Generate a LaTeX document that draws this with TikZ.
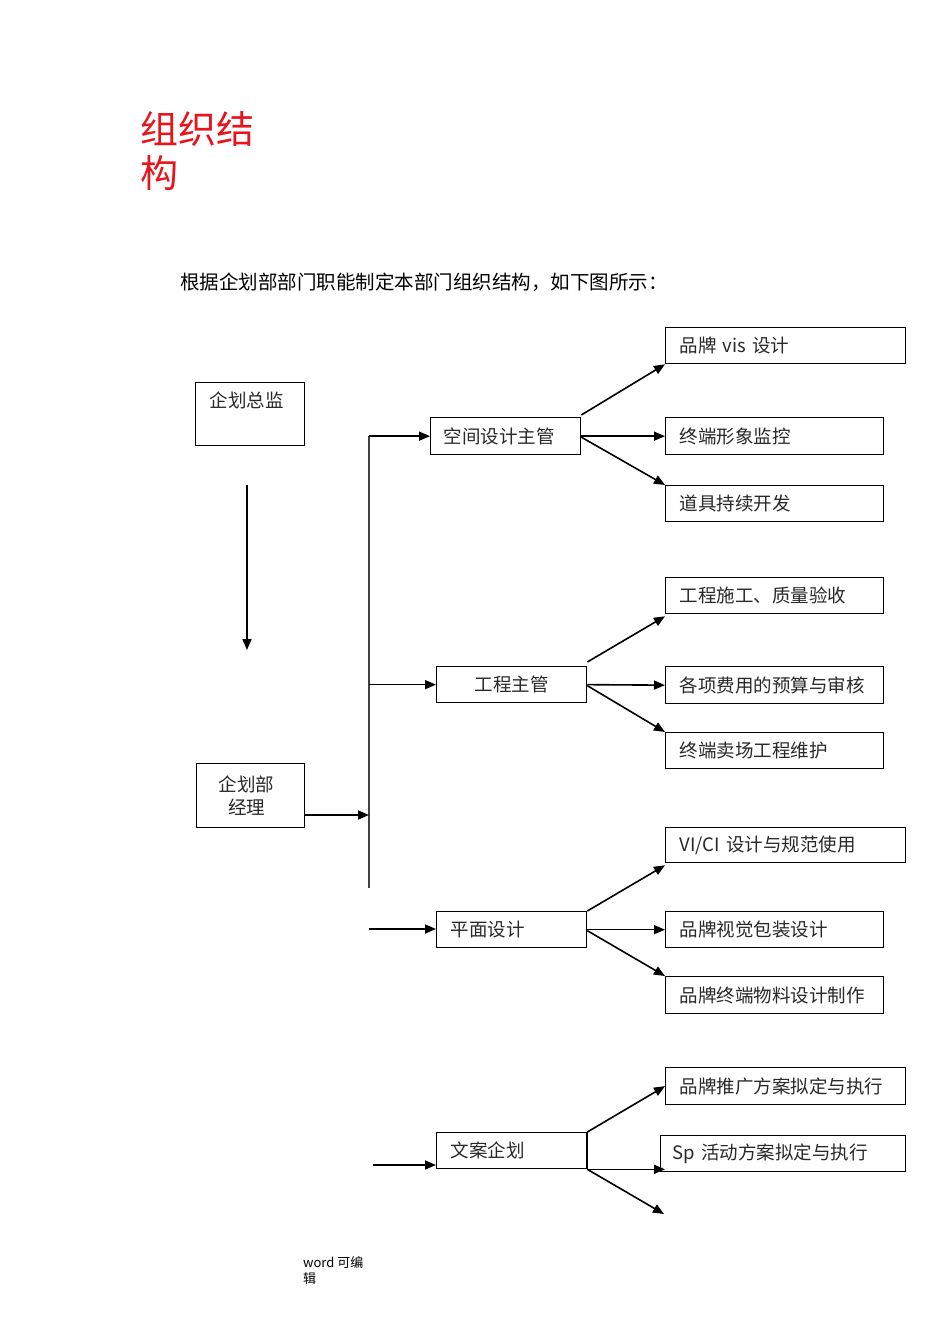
\documentclass[tikz,border=0pt]{standalone}
\usepackage{fontspec}
\setmainfont{Noto Sans CJK SC}
\usetikzlibrary{arrows.meta}
\definecolor{titlered}{RGB}{232,20,27}
\definecolor{boxtext}{RGB}{40,40,40}
\tikzset{
  boxfont/.style={font=\fontsize{18.5}{23}\selectfont, text=boxtext},
  orgbox/.style={draw=black, line width=1.3pt, inner ysep=0pt, inner xsep=14pt, anchor=north west, boxfont, align=left},
  arr/.style={line width=1.6pt, -{Triangle[length=11pt,width=9pt]}},
  spine/.style={line width=1.6pt, draw=black!75},
}
\begin{document}
\begin{tikzpicture}[x=1pt,y=-1pt]
\useasboundingbox (0,0) rectangle (950,1344);

% title and intro
\node[anchor=north west, align=left, inner sep=0pt, text=titlered,
      font=\fontsize{38}{44}\selectfont] (title) at (140,111) {组织结\\构};
\node[anchor=west, inner sep=0pt, font=\fontsize{19.5}{24}\selectfont] (intro) at (180,282)
  {根据企划部部门职能制定本部门组织结构，如下图所示：};

% left boxes
\node[orgbox, text width=81pt, text height=25pt, text depth=38pt] (zj) at (195,382) {企划总监};
\node[orgbox, inner xsep=10pt, text width=88pt, minimum height=64pt, align=center,
      font=\fontsize{18.5}{24}\selectfont] (jl) at (196,763) {\hspace*{-8pt}企划部\\[-1pt]\hspace*{-8pt}经理\\[-3pt]};

% middle boxes
\node[orgbox, inner xsep=13pt, text width=124pt, minimum height=37pt] (m1) at (430,417) {空间设计主管};
\node[orgbox, text width=122pt, minimum height=36pt, align=center] (m2) at (436,666) {工程主管};
\node[orgbox, text width=122pt, minimum height=36pt] (m3) at (436,911) {平面设计};
\node[orgbox, text width=122pt, minimum height=36pt] (m4) at (436,1132) {文案企划};

% right boxes
\node[orgbox, text width=212pt, minimum height=36pt] (r1) at (665,327) {品牌 vis 设计};
\node[orgbox, text width=190pt, minimum height=37pt] (r2) at (665,417) {终端形象监控};
\node[orgbox, text width=190pt, minimum height=36pt] (r3) at (665,485) {道具持续开发};
\node[orgbox, text width=190pt, minimum height=36pt] (r4) at (665,577) {工程施工、质量验收};
\node[orgbox, text width=190pt, minimum height=37pt] (r5) at (665,666) {各项费用的预算与审核};
\node[orgbox, text width=190pt, minimum height=36pt] (r6) at (665,732) {终端卖场工程维护};
\node[orgbox, text width=212pt, minimum height=35pt] (r7) at (665,827) {VI/CI 设计与规范使用};
\node[orgbox, text width=190pt, minimum height=36pt] (r8) at (665,911) {品牌视觉包装设计};
\node[orgbox, text width=190pt, minimum height=37pt] (r9) at (665,976) {品牌终端物料设计制作};
\node[orgbox, text width=212pt, minimum height=37pt] (r10) at (665,1067) {品牌推广方案拟定与执行};
\node[orgbox, inner xsep=12pt, text width=221pt, minimum height=36pt] (r11) at (660,1135) {Sp 活动方案拟定与执行};

% helper coordinates
\coordinate (d1) at (247,485);
\coordinate (d2) at (247,650);
\path (m1.west) ++(-61,0) coordinate (sTop);
\coordinate (sBot) at (369,888);
\coordinate (sMgr) at (369,815);
\coordinate (s3) at (369,929);
\coordinate (s4) at (373,1165);
\coordinate (free) at (664,1214);

% left side connectors
\draw[arr] (d1) -- (d2);
\draw[spine] (sTop) -- (sBot);
\draw[arr] (jl.east |- sMgr) -- (sMgr);
\draw[arr] (sTop) -- (m1.west);
\draw[arr] (sTop |- m2.west) -- (m2.west);
\draw[arr] (s3) -- (m3.west |- s3);
\draw[arr] (s4) -- (m4.west |- s4);

% space design
\draw[arr] ([yshift=2pt]m1.north east) -- (r1.south west);
\draw[arr] (m1.east) -- (r2.west);
\draw[arr] ([yshift=-1pt]m1.east) -- (r3.north west);
% engineering
\draw[arr] ([yshift=4pt]m2.north east) -- ([yshift=-2pt]r4.south west);
\draw[arr] (m2.east) -- (r5.west);
\draw[arr] ([yshift=-1pt]m2.east) -- (r6.north west);
% graphic design
\draw[arr] (m3.north east) -- ([yshift=-2pt]r7.south west);
\draw[arr] (m3.east) -- (r8.west);
\draw[arr] ([yshift=-1pt]m3.east) -- (r9.north west);
% copywriting
\draw[line width=1.6pt] (m4.north east) -- (m4.south east);
\draw[arr] (m4.north east) -- (r10.west);
\draw[arr] (m4.south east) -- (m4.south east -| r10.west);
\draw[arr] (m4.south east) -- (free);

% footer
\node[anchor=north west, align=left, inner sep=0pt, font=\fontsize{13}{16}\selectfont] (foot) at (303,1256) {word 可编\\辑};
\end{tikzpicture}
\end{document}
